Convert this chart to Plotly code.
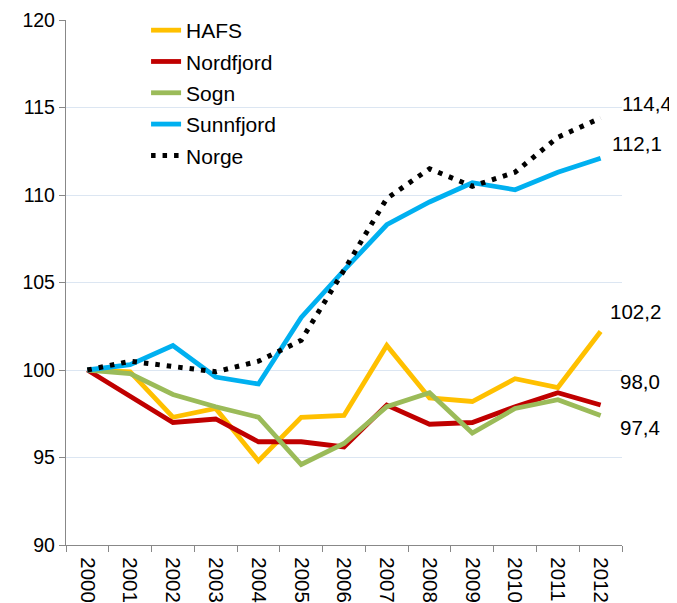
import plotly.graph_objects as go

years = [str(y) for y in range(2000, 2013)]
hafs = [100, 99.9, 97.3, 97.8, 94.8, 97.3, 97.4, 101.4, 98.4, 98.2, 99.5, 99.0, 102.2]
nordfjord = [100, 98.5, 97.0, 97.2, 95.9, 95.9, 95.6, 98.0, 96.9, 97.0, 97.9, 98.7, 98.0]
sogn = [100, 99.8, 98.6, 97.9, 97.3, 94.6, 95.8, 97.9, 98.7, 96.4, 97.8, 98.3, 97.4]
sunnfjord = [100, 100.3, 101.4, 99.6, 99.2, 103.0, 105.7, 108.3, 109.6, 110.7, 110.3, 111.3, 112.1]
norge = [100, 100.5, 100.2, 99.9, 100.5, 101.7, 105.7, 109.8, 111.5, 110.5, 111.3, 113.3, 114.4]

series = [
    ("HAFS", hafs, "#FFC000", "solid"),
    ("Nordfjord", nordfjord, "#C00000", "solid"),
    ("Sogn", sogn, "#9BBB59", "solid"),
    ("Sunnfjord", sunnfjord, "#00B0F0", "solid"),
    ("Norge", norge, "#000000", "4.5px,7px"),
]

end_labels = [
    ("114,4", norge[-1], 46, 15),
    ("112,1", sunnfjord[-1], 36, 15),
    ("102,2", hafs[-1], 35, 20),
    ("98,0", nordfjord[-1], 39, 24),
    ("97,4", sogn[-1], 39, -12),
]

FONT = "Liberation Sans, Arial, sans-serif"

fig = go.Figure()
for name, vals, color, dash in series:
    fig.add_trace(go.Scatter(
        x=years, y=vals, name=name, mode="lines", legendgroup=name,
        line=dict(color=color, width=4.8 if dash == "solid" else 5, dash=dash),
    ))

last_idx = len(years) - 1
for txt, yv, xs, ys in end_labels:
    fig.add_annotation(x=last_idx, y=yv, xref="x", yref="y", text=txt,
                       showarrow=False, xshift=xs, yshift=ys,
                       font=dict(size=20.5, color="#000000"))

fig.update_layout(
    width=677, height=603,
    margin=dict(l=58, r=63, t=12, b=66, autoexpand=False),
    paper_bgcolor="white", plot_bgcolor="white",
    font=dict(family=FONT, size=19.5, color="#000000"),
    showlegend=True,
    legend=dict(x=0.144, y=1.019, xanchor="left", yanchor="top",
                bgcolor="rgba(0,0,0,0)", font=dict(size=21),
                tracegroupgap=1),
    xaxis=dict(type="category", range=[-0.5, 12.5], showgrid=False,
               showline=True, linecolor="#888888", linewidth=1.3,
               ticks="outside", ticklen=6, tickcolor="#888888",
               tickson="boundaries", tickangle=90, automargin=False,
               ticklabelstandoff=7, tickfont=dict(size=20.5)),
    yaxis=dict(range=[90, 120], dtick=5, showgrid=True, gridcolor="#DCE6F2",
               gridwidth=1.3, showline=True, linecolor="#888888", linewidth=1.3,
               ticks="outside", ticklen=6, tickcolor="#888888",
               zeroline=False, automargin=False, tickfont=dict(size=19.5)),
)

fig.write_html("out.html")
